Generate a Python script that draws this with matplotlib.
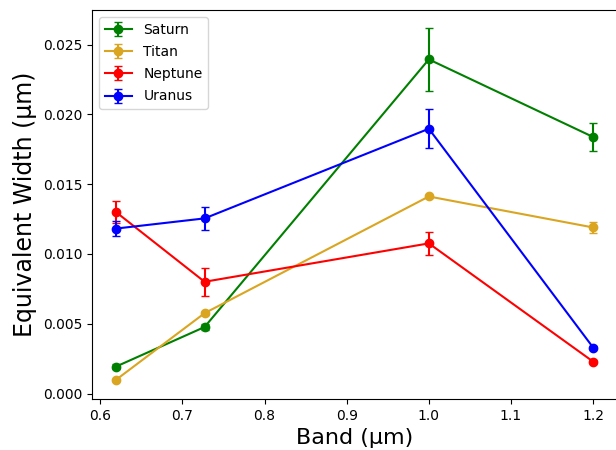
import matplotlib
matplotlib.use("Agg")
import matplotlib.pyplot as plt

bands = [0.619, 0.727, 1.0, 1.2]
saturn = [0.00193, 0.00477, 0.02394, 0.01838]
saturn_err = [0.0002, 0.0002, 0.00227, 0.00103]
titan = [0.00098, 0.00576, 0.01412, 0.01190]
titan_err = [0.0001, 0.0001, 0.0001, 0.0004]
neptune = [0.01301, 0.00801, 0.01076, 0.00229]
neptune_err = [0.0008, 0.001, 0.00085, 0.0001]
uranus = [0.01182, 0.01255, 0.01897, 0.0033]
uranus_err = [0.00055, 0.0008, 0.0014, 0.0001]

series = [
    ("Saturn", saturn, saturn_err, "green"),
    ("Titan", titan, titan_err, "goldenrod"),
    ("Neptune", neptune, neptune_err, "red"),
    ("Uranus", uranus, uranus_err, "blue"),
]

fig = plt.figure(figsize=(6.16, 4.5), dpi=100)
ax = fig.add_axes([92/616, 51/450, 525/616, 389/450])
for name, vals, errs, col in series:
    ax.errorbar(bands, vals, yerr=errs, fmt='-o', color=col, capsize=3, label=name)

ax.set_xlabel("Band (µm)", fontsize=16)
ax.set_ylabel("Equivalent Width (µm)", fontsize=17)
ax.legend(loc="upper left", labelspacing=0.6)
fig.savefig("out.png", dpi=100)
